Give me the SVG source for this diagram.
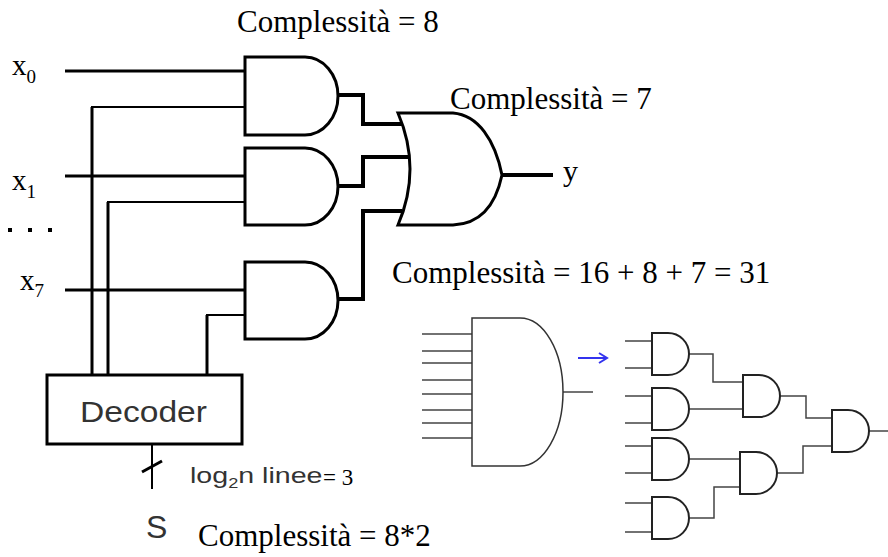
<svg xmlns="http://www.w3.org/2000/svg" width="888" height="557" viewBox="0 0 888 557">
<style>
.bg{fill:#fff}
.gate{fill:#fff;stroke:#000;stroke-width:3;stroke-linejoin:miter}
.w3{fill:none;stroke:#000;stroke-width:3}
.w2{fill:none;stroke:#000;stroke-width:2}
.w4{fill:none;stroke:#000;stroke-width:4}
.tnr{font-family:"Liberation Serif","Times New Roman",serif;fill:#000}
.ari{font-family:"Liberation Sans",Arial,sans-serif;fill:#333}
.bgate{fill:#fff;stroke:#333;stroke-width:1.5}
.sgate{fill:#fff;stroke:#222;stroke-width:2}
.tw{fill:none;stroke:#444;stroke-width:1.5}
</style>
<defs>
<path id="sand" d="M0,0 H16 A21,21 0 0 1 16,42 H0 Z"/>
</defs>
<rect class="bg" x="0" y="0" width="888" height="557"/>

<g id="connectors">
  <path class="w3" d="M65,71 H245"/>
  <path class="w3" d="M65,176 H245"/>
  <path class="w3" d="M65,290 H245"/>
  <path class="w3" d="M92,375 V107"/>
  <path class="w2" d="M91,107 H245"/>
  <path class="w3" d="M108,375 V202"/>
  <path class="w2" d="M107,202 H245"/>
  <path class="w3" d="M207,375 V315"/>
  <path class="w2" d="M206,315 H245"/>
  <path class="w4" d="M338,95 H363 V124 H402"/>
  <path class="w4" d="M338,186 H363 V157 H410"/>
  <path class="w4" d="M338,299 H363 V211 H402"/>
  <path class="w4" d="M502,175 H553"/>
  <path class="w2" d="M152,444 V489"/>
  <path fill="none" stroke="#000" stroke-width="3" d="M142,472 L162,461"/>
  <g class="tw">
    <path d="M422,334 H472 M422,351 H472 M422,363 H472 M422,380 H472 M422,394 H472 M422,410 H472 M422,423 H472 M422,438 H472"/>
    <path d="M563,392 H593"/>
    <path d="M625,341 H652 M625,368 H652 M625,396 H652 M625,423 H652 M625,446 H652 M625,473 H652 M625,503 H652 M625,532 H652"/>
    <path d="M689,354 H713 V382 H743"/>
    <path d="M689,409 H743"/>
    <path d="M689,459 H740"/>
    <path d="M689,518 H714 V487 H740"/>
    <path d="M780,396 H806 V418 H832"/>
    <path d="M777,473 H803 V446 H832"/>
    <path d="M869,431 H888"/>
  </g>
  <g id="arrow" fill="none" stroke="#3333ee" stroke-width="2">
    <path d="M578,358 H606"/>
    <path d="M599,353 L607,358 L599,363"/>
  </g>
</g>

<g id="and0"><path class="gate" d="M245,57 H305 A33,39 0 0 1 305,135 H245 Z"/></g>
<g id="and1"><path class="gate" d="M245,148 H305 A33,38.5 0 0 1 305,225 H245 Z"/></g>
<g id="and7"><path class="gate" d="M245,262 H305 A33,38.5 0 0 1 305,339 H245 Z"/></g>
<g id="or"><path class="gate" d="M398,113 H453 C478,115 495,140 502,175 C495,208 478,224 453,225 H398 Q422,169 398,113 Z"/></g>

<g id="decoder">
  <rect x="47" y="375" width="195" height="69" fill="#fff" stroke="#000" stroke-width="3"/>
  <text class="ari" x="80" y="422" font-size="29" textLength="127" lengthAdjust="spacingAndGlyphs">Decoder</text>
</g>

<g id="labels">
  <text class="tnr" x="12" y="75" font-size="29">x<tspan font-size="19" dy="8">0</tspan></text>
  <text class="tnr" x="12" y="190" font-size="29">x<tspan font-size="19" dy="8">1</tspan></text>
  <text class="tnr" x="20" y="290" font-size="29">x<tspan font-size="19" dy="7">7</tspan></text>
  <g fill="#000"><rect x="8" y="228" width="4" height="4"/><rect x="28" y="228" width="4" height="4"/><rect x="48" y="228" width="4" height="4"/></g>
  <text class="tnr" x="563" y="181" font-size="30">y</text>
  <text class="tnr" x="237" y="32" font-size="31">Complessità = 8</text>
  <text class="tnr" x="450" y="109" font-size="31">Complessità = 7</text>
  <text class="tnr" x="392" y="283" font-size="31">Complessità = 16 + 8 + 7 = 31</text>
  <text class="tnr" x="198" y="546" font-size="31">Complessità = 8*2</text>
  <g transform="translate(190,483) scale(1.3,1)"><text class="ari" x="0" y="0" font-size="22">log<tspan font-size="14" dy="5">2</tspan><tspan dy="-5">n linee</tspan></text></g>
  <text class="tnr" x="323" y="485" font-size="23">= 3</text>
  <text class="ari" x="146" y="538" font-size="32">S</text>
</g>

<g id="big-and"><path class="bgate" d="M472,318 H520 A43,74 0 0 1 520,466 H472 Z"/></g>

<g id="tree">
  <g id="t1"><use href="#sand" class="sgate" x="652" y="333"/></g>
  <g id="t2"><use href="#sand" class="sgate" x="652" y="388"/></g>
  <g id="t3"><use href="#sand" class="sgate" x="652" y="438"/></g>
  <g id="t4"><use href="#sand" class="sgate" x="652" y="497"/></g>
  <g id="t5"><use href="#sand" class="sgate" x="743" y="375"/></g>
  <g id="t6"><use href="#sand" class="sgate" x="740" y="452"/></g>
  <g id="t7"><use href="#sand" class="sgate" x="832" y="410"/></g>
</g>
</svg>
